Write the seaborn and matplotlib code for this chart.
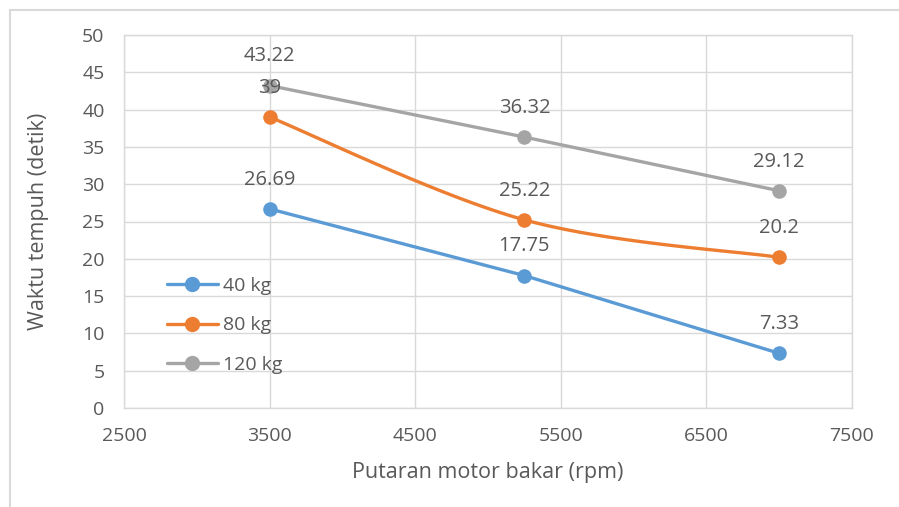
import matplotlib
matplotlib.use("Agg")
import matplotlib.pyplot as plt
from matplotlib.lines import Line2D
from matplotlib.patches import Rectangle
import numpy as np
import pandas as pd
import seaborn as sns

# data
rpm = [3500, 5250, 7000]
load_labels = ["40 kg", "80 kg", "120 kg"]
time_40 = [26.69, 17.75, 7.33]
time_80 = [39, 25.22, 20.2]
time_120 = [43.22, 36.32, 29.12]
label_40 = ["26.69", "17.75", "7.33"]
label_80 = ["39", "25.22", "20.2"]
label_120 = ["43.22", "36.32", "29.12"]
x_ticks = [2500, 3500, 4500, 5500, 6500, 7500]
y_ticks = [0, 5, 10, 15, 20, 25, 30, 35, 40, 45, 50]

colors = ["#5B9BD5", "#ED7D31", "#A5A5A5"]
smooth = [False, True, False]
text_col = "#595959"

df = pd.DataFrame({
    "rpm": rpm * 3,
    "waktu": time_40 + time_80 + time_120,
    "beban": sum([[l] * 3 for l in load_labels], []),
})
labels = {"40 kg": label_40, "80 kg": label_80, "120 kg": label_120}

sns.set_theme(style="white")
plt.rcParams["font.family"] = ["Open Sans", "DejaVu Sans"]

fig = plt.figure(figsize=(8.99, 5.07), dpi=100)
ax = fig.add_axes([124 / 899, 1 - 408 / 507, (852 - 124) / 899, (408 - 35) / 507])

# outer chart border (Excel chart area)
fig.patches.append(Rectangle((10 / 899, -0.05), 1.2, 1 - 10 / 507 + 0.05,
                             transform=fig.transFigure, fill=False,
                             edgecolor="#d9d9d9", linewidth=1.5))


def catmull(xs, ys, n=60):
    # Excel-style smoothed line through the points
    px = np.array(xs, float)
    py = np.array(ys, float)
    px = np.concatenate([[px[0]], px, [px[-1]]])
    py = np.concatenate([[py[0]], py, [py[-1]]])
    ox, oy = [], []
    for i in range(1, len(px) - 2):
        p0, p1, p2, p3 = [np.array([px[j], py[j]]) for j in (i - 1, i, i + 1, i + 2)]
        c1 = p1 + (p2 - p0) / 6
        c2 = p2 - (p3 - p1) / 6
        t = np.linspace(0, 1, n)[:, None]
        b = (1 - t) ** 3 * p1 + 3 * (1 - t) ** 2 * t * c1 + 3 * (1 - t) * t ** 2 * c2 + t ** 3 * p2
        ox.extend(b[:, 0])
        oy.extend(b[:, 1])
    return ox, oy


handles = []
for lab, col, sm in zip(load_labels, colors, smooth):
    sub = df[df["beban"] == lab]
    if sm:
        sx, sy = catmull(sub["rpm"], sub["waktu"])
        ax.plot(sx, sy, color=col, lw=2.4, zorder=3)
    else:
        sns.lineplot(data=sub, x="rpm", y="waktu", color=col, lw=2.4, ax=ax, zorder=3)
    sns.scatterplot(data=sub, x="rpm", y="waktu", color=col, s=110, edgecolor=col,
                    linewidth=0, ax=ax, zorder=4)
    for xv, yv, t in zip(sub["rpm"], sub["waktu"], labels[lab]):
        ax.annotate(t, (xv, yv), xytext=(0, 21), textcoords="offset points",
                    ha="center", va="center", fontsize=14.5, color=text_col, zorder=5)
    handles.append(Line2D([], [], color=col, lw=2.4, marker="o", markersize=10))

ax.set_xlim(2500, 7500)
ax.set_ylim(0, 50)
ax.set_xticks(x_ticks)
ax.set_yticks(y_ticks)
ax.grid(True, color="#d9d9d9", lw=1)
ax.set_axisbelow(True)
for s in ax.spines.values():
    s.set_color("#d9d9d9")
    s.set_linewidth(1)
ax.tick_params(axis="both", length=0, labelsize=14, labelcolor=text_col)
ax.tick_params(axis="x", pad=14)
ax.tick_params(axis="y", pad=14)
ax.set_xlabel("Putaran motor bakar (rpm)", fontsize=15.5, color=text_col, labelpad=12)
ax.set_ylabel("Waktu tempuh (detik)", fontsize=15.5, color=text_col, labelpad=24)

ax.legend(handles, load_labels, loc="lower left", bbox_to_anchor=(0.035, 0.045),
          frameon=False, fontsize=14, labelcolor=text_col, labelspacing=1.1,
          handlelength=2.6, handletextpad=0.3)

fig.savefig("out.png", dpi=100, facecolor="white")
